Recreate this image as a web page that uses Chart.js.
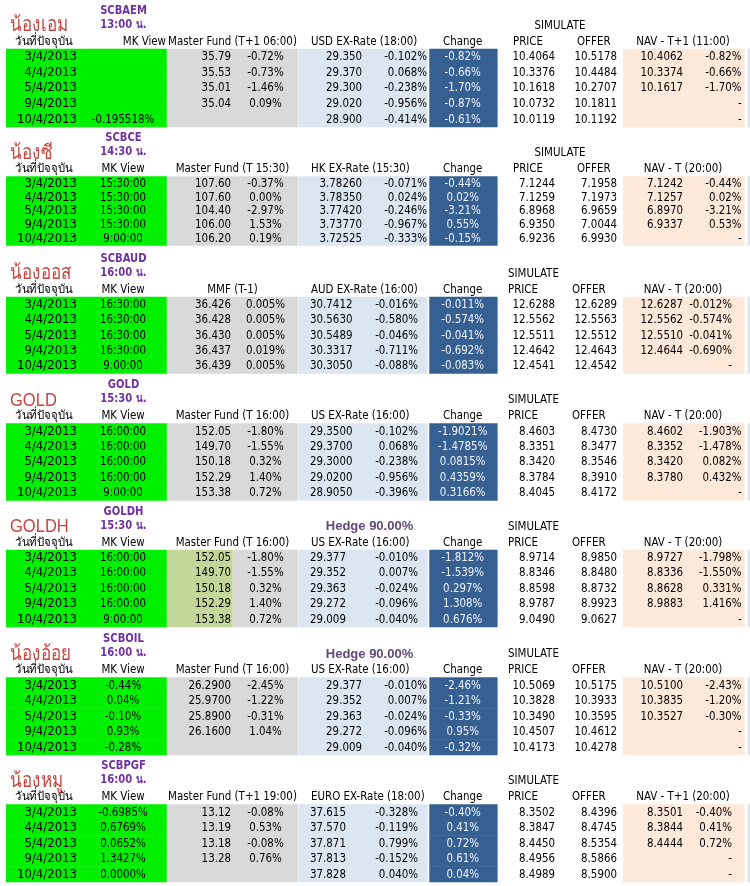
<!DOCTYPE html>
<html>
<head>
<meta charset="utf-8">
<script src="https://cdn.jsdelivr.net/npm/chart.js@4.4.1/dist/chart.umd.min.js"></script>
<style>
html,body{margin:0;padding:0;background:#fff;}
#c{display:block;}
</style>
</head>
<body>
<canvas id="c" width="750" height="886" style="width:750px;height:886px"></canvas>
<script>
// ================= DATA =================
const dates = ['3/4/2013','4/4/2013','5/4/2013','9/4/2013','10/4/2013'];
const fundNames = ['น้องเอม','น้องซี','น้องออส','GOLD','GOLDH','น้องอ้อย','น้องหมู'];
const fundCodes = ['SCBAEM','SCBCE','SCBAUD','GOLD','GOLDH','SCBOIL','SCBPGF'];
const cutoffTimes = ['13:00 น.','14:30 น.','16:00 น.','15:30 น.','15:30 น.','16:00 น.','16:00 น.'];
const hedgeLabels = ['','','','','Hedge 90.00%','Hedge 90.00%',''];
const masterHeaders = ['Master Fund (T+1 06:00)','Master Fund (T 15:30)','MMF (T-1)','Master Fund (T 16:00)','Master Fund (T 16:00)','Master Fund (T 16:00)','Master Fund (T+1 19:00)'];
const fxHeaders = ['USD EX-Rate (18:00)','HK EX-Rate (15:30)','AUD EX-Rate (16:00)','US EX-Rate (16:00)','US EX-Rate (16:00)','US EX-Rate (16:00)','EURO EX-Rate (18:00)'];
const navHeaders = ['NAV - T+1 (11:00)','NAV - T (20:00)','NAV - T (20:00)','NAV - T (20:00)','NAV - T (20:00)','NAV - T (20:00)','NAV - T+1 (20:00)'];
const dateHeader = 'วันที่ปัจจุบัน';
const mkHeader = 'MK View';
const changeHeader = 'Change';
const priceHeader = 'PRICE';
const offerHeader = 'OFFER';
const simulateLabel = 'SIMULATE';

// SCBAEM
const aemMK = ['','','','','-0.195518%'];
const aemMF = ['35.79','35.53','35.01','35.04',''];
const aemMFPct = ['-0.72%','-0.73%','-1.46%','0.09%',''];
const aemFX = ['29.350','29.370','29.300','29.020','28.900'];
const aemFXPct = ['-0.102%','0.068%','-0.238%','-0.956%','-0.414%'];
const aemChg = ['-0.82%','-0.66%','-1.70%','-0.87%','-0.61%'];
const aemPrice = ['10.4064','10.3376','10.1618','10.0732','10.0119'];
const aemOffer = ['10.5178','10.4484','10.2707','10.1811','10.1192'];
const aemNav = ['10.4062','10.3374','10.1617','',''];
const aemNavPct = ['-0.82%','-0.66%','-1.70%','-','-'];

// SCBCE
const ceMK = ['15:30:00','15:30:00','15:30:00','15:30:00','9:00:00'];
const ceMF = ['107.60','107.60','104.40','106.00','106.20'];
const ceMFPct = ['-0.37%','0.00%','-2.97%','1.53%','0.19%'];
const ceFX = ['3.78260','3.78350','3.77420','3.73770','3.72525'];
const ceFXPct = ['-0.071%','0.024%','-0.246%','-0.967%','-0.333%'];
const ceChg = ['-0.44%','0.02%','-3.21%','0.55%','-0.15%'];
const cePrice = ['7.1244','7.1259','6.8968','6.9350','6.9236'];
const ceOffer = ['7.1958','7.1973','6.9659','7.0044','6.9930'];
const ceNav = ['7.1242','7.1257','6.8970','6.9337',''];
const ceNavPct = ['-0.44%','0.02%','-3.21%','0.53%','-'];

// SCBAUD
const audMK = ['16:30:00','16:30:00','16:30:00','16:30:00','9:00:00'];
const audMF = ['36.426','36.428','36.430','36.437','36.439'];
const audMFPct = ['0.005%','0.005%','0.005%','0.019%','0.005%'];
const audFX = ['30.7412','30.5630','30.5489','30.3317','30.3050'];
const audFXPct = ['-0.016%','-0.580%','-0.046%','-0.711%','-0.088%'];
const audChg = ['-0.011%','-0.574%','-0.041%','-0.692%','-0.083%'];
const audPrice = ['12.6288','12.5562','12.5511','12.4642','12.4541'];
const audOffer = ['12.6289','12.5563','12.5512','12.4643','12.4542'];
const audNav = ['12.6287','12.5562','12.5510','12.4644',''];
const audNavPct = ['-0.012%','-0.574%','-0.041%','-0.690%','-'];

// GOLD
const goldMK = ['16:00:00','16:00:00','16:00:00','16:00:00','9:00:00'];
const goldMF = ['152.05','149.70','150.18','152.29','153.38'];
const goldMFPct = ['-1.80%','-1.55%','0.32%','1.40%','0.72%'];
const goldFX = ['29.3500','29.3700','29.3000','29.0200','28.9050'];
const goldFXPct = ['-0.102%','0.068%','-0.238%','-0.956%','-0.396%'];
const goldChg = ['-1.9021%','-1.4785%','0.0815%','0.4359%','0.3166%'];
const goldPrice = ['8.4603','8.3351','8.3420','8.3784','8.4045'];
const goldOffer = ['8.4730','8.3477','8.3546','8.3910','8.4172'];
const goldNav = ['8.4602','8.3352','8.3420','8.3780',''];
const goldNavPct = ['-1.903%','-1.478%','0.082%','0.432%','-'];

// GOLDH
const goldhMK = ['16:00:00','16:00:00','16:00:00','16:00:00','9:00:00'];
const goldhMF = ['152.05','149.70','150.18','152.29','153.38'];
const goldhMFPct = ['-1.80%','-1.55%','0.32%','1.40%','0.72%'];
const goldhFX = ['29.377','29.352','29.363','29.272','29.009'];
const goldhFXPct = ['-0.010%','0.007%','-0.024%','-0.096%','-0.040%'];
const goldhChg = ['-1.812%','-1.539%','0.297%','1.308%','0.676%'];
const goldhPrice = ['8.9714','8.8346','8.8598','8.9787','9.0490'];
const goldhOffer = ['8.9850','8.8480','8.8732','8.9923','9.0627'];
const goldhNav = ['8.9727','8.8336','8.8628','8.9883',''];
const goldhNavPct = ['-1.798%','-1.550%','0.331%','1.416%','-'];

// SCBOIL
const oilMK = ['-0.44%','0.04%','-0.10%','0.93%','-0.28%'];
const oilMF = ['26.2900','25.9700','25.8900','26.1600',''];
const oilMFPct = ['-2.45%','-1.22%','-0.31%','1.04%',''];
const oilFX = ['29.377','29.352','29.363','29.272','29.009'];
const oilFXPct = ['-0.010%','0.007%','-0.024%','-0.096%','-0.040%'];
const oilChg = ['-2.46%','-1.21%','-0.33%','0.95%','-0.32%'];
const oilPrice = ['10.5069','10.3828','10.3490','10.4507','10.4173'];
const oilOffer = ['10.5175','10.3933','10.3595','10.4612','10.4278'];
const oilNav = ['10.5100','10.3835','10.3527','',''];
const oilNavPct = ['-2.43%','-1.20%','-0.30%','-','-'];

// SCBPGF
const pgfMK = ['-0.6985%','0.6769%','0.0652%','1.3427%','0.0000%'];
const pgfMF = ['13.12','13.19','13.18','13.28',''];
const pgfMFPct = ['-0.08%','0.53%','-0.08%','0.76%',''];
const pgfFX = ['37.615','37.570','37.871','37.813','37.828'];
const pgfFXPct = ['-0.328%','-0.119%','0.799%','-0.152%','0.040%'];
const pgfChg = ['-0.40%','0.41%','0.72%','0.61%','0.04%'];
const pgfPrice = ['8.3502','8.3847','8.4450','8.4956','8.4989'];
const pgfOffer = ['8.4396','8.4745','8.5354','8.5866','8.5900'];
const pgfNav = ['8.3501','8.3844','8.4444','',''];
const pgfNavPct = ['-0.40%','0.41%','0.72%','-','-'];

// table built from the arrays above
const funds = [
  {mk:aemMK, mf:aemMF, mfPct:aemMFPct, fx:aemFX, fxPct:aemFXPct, chg:aemChg, price:aemPrice, offer:aemOffer, nav:aemNav, navPct:aemNavPct},
  {mk:ceMK, mf:ceMF, mfPct:ceMFPct, fx:ceFX, fxPct:ceFXPct, chg:ceChg, price:cePrice, offer:ceOffer, nav:ceNav, navPct:ceNavPct},
  {mk:audMK, mf:audMF, mfPct:audMFPct, fx:audFX, fxPct:audFXPct, chg:audChg, price:audPrice, offer:audOffer, nav:audNav, navPct:audNavPct},
  {mk:goldMK, mf:goldMF, mfPct:goldMFPct, fx:goldFX, fxPct:goldFXPct, chg:goldChg, price:goldPrice, offer:goldOffer, nav:goldNav, navPct:goldNavPct},
  {mk:goldhMK, mf:goldhMF, mfPct:goldhMFPct, fx:goldhFX, fxPct:goldhFXPct, chg:goldhChg, price:goldhPrice, offer:goldhOffer, nav:goldhNav, navPct:goldhNavPct},
  {mk:oilMK, mf:oilMF, mfPct:oilMFPct, fx:oilFX, fxPct:oilFXPct, chg:oilChg, price:oilPrice, offer:oilOffer, nav:oilNav, navPct:oilNavPct},
  {mk:pgfMK, mf:pgfMF, mfPct:pgfMFPct, fx:pgfFX, fxPct:pgfFXPct, chg:pgfChg, price:pgfPrice, offer:pgfOffer, nav:pgfNav, navPct:pgfNavPct}
];

// ================= LAYOUT / STYLE =================
const ROW_TOP = [49, 176.5, 297, 423.5, 550, 677.5, 804.5];
const ROW_H   = [15.6, 13.8, 15.3, 15.4, 15.4, 15.5, 15.5];
const FX_LEFT_BLOCKS = [2,3,4,6];      // blocks whose FX value is left aligned
const NAVPCT_NARROW = [2,6];          // blocks whose NAV % ends further left
const OLIVE_BLOCKS = [4];             // master fund value cell tinted
const COLORS = {
  green:'#00f000', gray:'#d9d9d9', olive:'#c4d79b', lblue:'#dce6f1',
  dark:'#366092', peach:'#fde9d9', text:'#000000', purple:'#7030a0',
  hedge:'#60497a', red:'#c9443f', chgText:'#eef2f8'
};
const FONT = "'DejaVu Sans', 'Noto Sans', sans-serif";
const SX = 0.79;
const BODY_PX = 13;
const THAI = /[\u0E00-\u0E7F]/;

function regionsFor(b){
  const r = [
    {c:COLORS.green, x:[6,166.8]},
    {c:COLORS.lblue, x:[298.4,427.6]},
    {c:COLORS.dark, x:[429.3,497.6]},
    {c:COLORS.peach, x:[623,744.6]},
    {c:COLORS.lblue, x:[747.4,750]}
  ];
  if (OLIVE_BLOCKS.includes(b)) {
    r.push({c:COLORS.olive, x:[166.8,232.7]});
    r.push({c:COLORS.gray, x:[232.7,297.8]});
  } else {
    r.push({c:COLORS.gray, x:[166.8,297.8]});
  }
  return r;
}
function rowY(b,i){ return ROW_TOP[b] + (i+0.5)*ROW_H[b]; }

const datasets = [];
funds.forEach((f,b)=>{
  regionsFor(b).forEach(reg=>{
    datasets.push({
      data: dates.map((d,i)=>({x:reg.x, y:rowY(b,i)})),
      backgroundColor: reg.c,
      borderWidth: 0,
      barThickness: ROW_H[b] + 0.6,
      grouped: false,
      inflateAmount: 0
    });
  });
});

function txt(ctx, s, xp, yp, align, font, color, sx){
  if (s === '' || s == null) return;
  ctx.save();
  ctx.translate(xp, yp);
  ctx.scale(sx == null ? SX : sx, 1);
  ctx.font = font;
  ctx.fillStyle = color;
  ctx.textAlign = align;
  ctx.textBaseline = 'middle';
  ctx.fillText(s, 0, 0);
  ctx.restore();
}

const tableText = {
  id:'tableText',
  afterDatasetsDraw(chart){
    const {ctx} = chart;
    const X = v => chart.scales.x.getPixelForValue(v);
    const Y = v => chart.scales.y.getPixelForValue(v);
    const body = BODY_PX + 'px ' + FONT;
    funds.forEach((f,b)=>{
      const top = ROW_TOP[b];
      const early = b < 2;
      // titles
      if (THAI.test(fundNames[b]))
        txt(ctx, fundNames[b], X(10), Y(top-23), 'left', '20px ' + FONT, COLORS.red, 0.85);
      else
        txt(ctx, fundNames[b], X(10), Y(top-23), 'left', '19px ' + "'Liberation Sans', 'DejaVu Sans', sans-serif", COLORS.red, 0.87);
      txt(ctx, fundCodes[b], X(123.5), Y(top-38.5), 'center', 'bold 12.5px ' + FONT, COLORS.purple, 0.8);
      txt(ctx, cutoffTimes[b], X(123.5), Y(top-24.5), 'center', 'bold 12.5px ' + FONT, COLORS.purple, 0.8);
      txt(ctx, hedgeLabels[b], X(369.5), Y(top-23.5), 'center', 'bold 13px ' + "'Liberation Sans', sans-serif", COLORS.hedge, 1);
      if (early) txt(ctx, simulateLabel, X(560), Y(top-23.5), 'center', body, COLORS.text);
      else txt(ctx, simulateLabel, X(508), Y(top-23.5), 'left', body, COLORS.text);
      // headers
      const hy = Y(top-7.5);
      txt(ctx, dateHeader, X(44), hy, 'center', '12px ' + FONT, COLORS.text, 0.95);
      if (b === 0) txt(ctx, mkHeader, X(166), hy, 'right', body, COLORS.text);
      else txt(ctx, mkHeader, X(123), hy, 'center', body, COLORS.text);
      txt(ctx, masterHeaders[b], X(232.5), hy, 'center', body, COLORS.text);
      txt(ctx, fxHeaders[b], X(311), hy, 'left', body, COLORS.text);
      txt(ctx, changeHeader, X(462.7), hy, 'center', body, COLORS.text);
      txt(ctx, priceHeader, X(early?513:508), hy, 'left', body, COLORS.text);
      txt(ctx, offerHeader, X(early?577:572), hy, 'left', body, COLORS.text);
      txt(ctx, navHeaders[b], X(683), hy, 'center', body, COLORS.text);
      // rows
      const fxLeft = FX_LEFT_BLOCKS.includes(b);
      const navPctX = NAVPCT_NARROW.includes(b) ? 732 : 741.6;
      dates.forEach((d,i)=>{
        const y = Y(rowY(b,i));
        txt(ctx, d, X(77), y, 'right', body, COLORS.text, 0.9);
        txt(ctx, f.mk[i], X(123), y, 'center', body, COLORS.text);
        txt(ctx, f.mf[i], X(231), y, 'right', body, COLORS.text);
        txt(ctx, f.mfPct[i], X(265.5), y, 'center', body, COLORS.text);
        if (fxLeft) txt(ctx, f.fx[i], X(310), y, 'left', body, COLORS.text);
        else txt(ctx, f.fx[i], X(362), y, 'right', body, COLORS.text);
        txt(ctx, f.fxPct[i], X(fxLeft ? 418 : 427), y, 'right', body, COLORS.text);
        txt(ctx, f.chg[i], X(462.7), y, 'center', body, COLORS.chgText);
        txt(ctx, f.price[i], X(555), y, 'right', body, COLORS.text);
        txt(ctx, f.offer[i], X(617), y, 'right', body, COLORS.text);
        txt(ctx, f.nav[i], X(683), y, 'right', body, COLORS.text);
        txt(ctx, f.navPct[i], X(navPctX), y, 'right', body, COLORS.text);
      });
    });
  }
};

new Chart(document.getElementById('c'), {
  type: 'bar',
  data: { datasets },
  options: {
    indexAxis: 'y',
    responsive: false,
    animation: false,
    devicePixelRatio: 1,
    layout: { padding: 0 },
    plugins: { legend: {display:false}, tooltip: {enabled:false}, title:{display:false} },
    scales: {
      x: { type:'linear', min:0, max:750, display:false, offset:false, grace:0 },
      y: { type:'linear', min:0, max:886, reverse:true, display:false, offset:false, grace:0 }
    }
  },
  plugins: [tableText]
});
</script>
</body>
</html>
